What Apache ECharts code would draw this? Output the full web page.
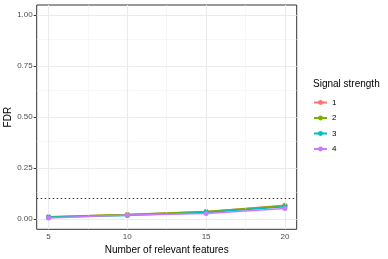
<!DOCTYPE html>
<html><head><meta charset="utf-8">
<script src="https://cdn.jsdelivr.net/npm/echarts@6/dist/echarts.min.js"></script>
<style>html,body{margin:0;padding:0;background:#fff}#c{width:388px;height:259px}</style>
</head><body><div id="c"></div>
<script>
const features = [5, 10, 15, 20];
const strengthNames = ['1', '2', '3', '4'];
const s1 = [0.010, 0.022, 0.036, 0.068];
const s2 = [0.011, 0.023, 0.037, 0.065];
const s3 = [0.009, 0.018, 0.032, 0.060];
const s4 = [0.005, 0.020, 0.028, 0.052];
const seriesValues = [s1, s2, s3, s4];
const xTicks = [5, 10, 15, 20];
const xMinor = [7.5, 12.5, 17.5];
const yTicks = [0, 0.25, 0.5, 0.75, 1.0];
const yMinor = [0.125, 0.375, 0.625, 0.875];
const threshold = 0.1;
const colors = ['#F8766D', '#7CAE00', '#00BFC4', '#C77CFF'];

const chart = echarts.init(document.getElementById('c'), null, {renderer: 'canvas'});
const gridLines = [];
xMinor.forEach(v => gridLines.push({xAxis: v, lineStyle: {color: '#F2F2F2', width: 0.6, type: 'solid'}}));
yMinor.forEach(v => gridLines.push({yAxis: v, lineStyle: {color: '#F2F2F2', width: 0.6, type: 'solid'}}));
xTicks.forEach(v => gridLines.push({xAxis: v, lineStyle: {color: '#EBEBEB', width: 1.1, type: 'solid'}}));
yTicks.forEach(v => gridLines.push({yAxis: v, lineStyle: {color: '#EBEBEB', width: 1.1, type: 'solid'}}));

const series = [{
  type: 'line', data: [], silent: true, z: 1,
  markLine: {silent: true, symbol: 'none', label: {show: false}, animation: false, data: gridLines}
}];
seriesValues.forEach((vals, i) => {
  series.push({
    name: strengthNames[i], type: 'line', z: 3 + i,
    data: features.map((f, j) => [f, vals[j]]),
    symbol: 'circle', symbolSize: 5,
    lineStyle: {width: 1.5, color: colors[i]},
    itemStyle: {color: colors[i]},
    animation: false
  });
});
series.push({
  type: 'line', data: [], silent: true, z: 2,
  markLine: {silent: true, symbol: 'none', label: {show: false}, animation: false,
    data: [{yAxis: threshold, lineStyle: {color: '#333', width: 1, type: [1.5, 2.5]}}]}
});

chart.setOption({
  animation: false,
  textStyle: {fontFamily: 'Liberation Sans, Arial, sans-serif'},
  grid: {left: 36.7, right: 91.3, top: 5, bottom: 29.7, outerBoundsMode: 'none', containLabel: false,
    show: true, borderColor: '#333', borderWidth: 1, backgroundColor: 'transparent'},
  title: {text: 'Signal strength', left: 308, top: 74, textStyle: {fontSize: 10, fontWeight: 'normal', color: '#000'}},
  legend: {
    data: strengthNames, orient: 'vertical', left: 308, top: 93.5,
    itemWidth: 13, itemHeight: 6, itemGap: 7.5,
    textStyle: {fontSize: 8, color: '#000'}
  },
  xAxis: {
    type: 'value', min: 4.25, max: 20.75,
    name: 'Number of relevant features', nameLocation: 'middle', nameGap: 15.3,
    nameTextStyle: {fontSize: 10, color: '#000'},
    axisLine: {show: false},
    axisTick: {show: true, customValues: xTicks, length: 3, lineStyle: {color: '#333'}},
    axisLabel: {customValues: xTicks, fontSize: 8, color: '#4D4D4D', margin: 3.5},
    splitLine: {show: false}
  },
  yAxis: {
    type: 'value', min: -0.05, max: 1.05,
    name: 'FDR', nameLocation: 'middle', nameGap: 23.7, nameMoveOverlap: false,
    nameTextStyle: {fontSize: 10, color: '#000'},
    axisLine: {show: false},
    axisTick: {show: true, customValues: yTicks, length: 3, lineStyle: {color: '#333'}},
    axisLabel: {customValues: yTicks, fontSize: 8, color: '#4D4D4D', margin: 4,
      formatter: v => v.toFixed(2)},
    splitLine: {show: false}
  },
  series: series
});
</script></body></html>
